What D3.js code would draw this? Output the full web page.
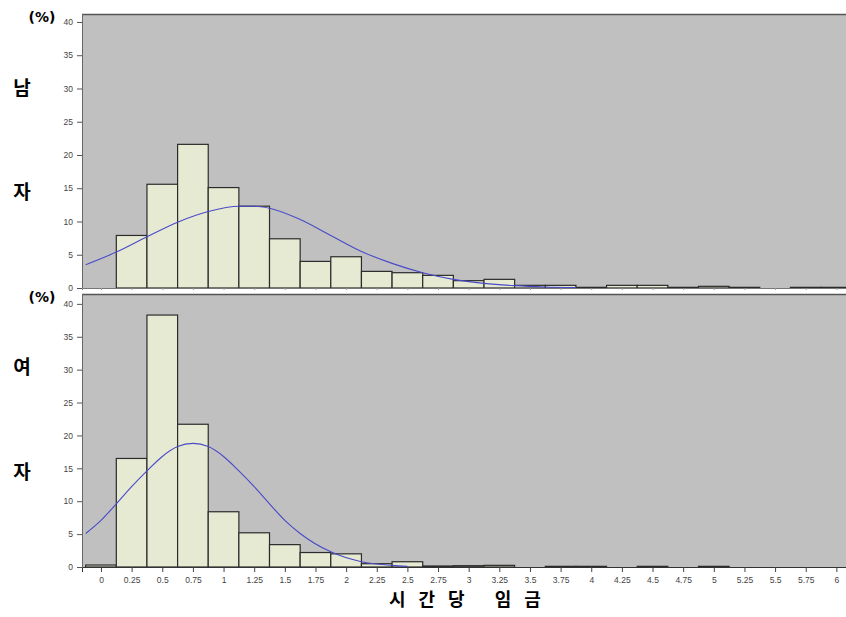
<!DOCTYPE html>
<html>
<head>
<meta charset="utf-8">
<script src="https://cdn.jsdelivr.net/npm/d3@7"></script>
<style>
  body { margin: 0; background: #fff; }
  svg { display: block; }
</style>
</head>
<body>
<svg id="chart" width="846" height="617"></svg>
<script>
// bin centres (hourly wage), one bar per bin of width 0.25
const bins = [0, 0.25, 0.5, 0.75, 1, 1.25, 1.5, 1.75, 2, 2.25, 2.5, 2.75, 3,
  3.25, 3.5, 3.75, 4, 4.25, 4.5, 4.75, 5, 5.25, 5.5, 5.75, 6];

// percent of workers in each bin
const maleValues = [0, 7.9, 15.6, 21.6, 15.1, 12.3, 7.4, 4.0, 4.7, 2.5, 2.3, 1.9, 1.1,
  1.3, 0.4, 0.4, 0.1, 0.4, 0.4, 0.1, 0.25, 0.1, 0, 0.1, 0.1];
const femaleValues = [0.3, 16.5, 38.3, 21.7, 8.4, 5.2, 3.4, 2.2, 2.0, 0.5, 0.8, 0.15, 0.2,
  0.25, 0, 0.1, 0.1, 0, 0.1, 0, 0.1, 0, 0, 0, 0];

// fitted curves, points
const maleCurveX = [-0.125, 0.125, 0.375, 0.625, 0.875, 1.125, 1.25, 1.375, 1.625, 1.875,
  2.125, 2.375, 2.625, 2.875, 3.125, 3.375, 3.625, 3.875];
const maleCurveY = [3.5, 5.4, 7.7, 9.9, 11.5, 12.3, 12.3, 12.0, 10.3, 7.9,
  5.5, 3.7, 2.3, 1.3, 0.7, 0.35, 0.15, 0.05];
const femaleCurveX = [-0.125, 0, 0.125, 0.25, 0.375, 0.5, 0.625, 0.75, 0.875, 1.0, 1.125,
  1.25, 1.375, 1.5, 1.625, 1.875, 2.125, 2.375, 2.5];
const femaleCurveY = [5.1, 7.1, 9.6, 12.2, 14.6, 16.8, 18.3, 18.8, 18.3, 16.8, 14.6,
  12.2, 9.6, 7.1, 5.1, 2.3, 0.8, 0.25, 0.1];

const yTicks = [0, 5, 10, 15, 20, 25, 30, 35, 40];
const xTicks = bins;

const svg = d3.select('#chart');
const left = 82, right = 867;

const xScale = d3.scaleLinear().domain([-0.155, 6.25]).range([left, right]);

const panels = [
  {values: maleValues, cx: maleCurveX, cy: maleCurveY, top: 14, bottom: 288, yMax: 41.2,
    label: ['남', '자'], labelY: [88, 192], pctY: 22, showLabels: false},
  {values: femaleValues, cx: femaleCurveX, cy: femaleCurveY, top: 294, bottom: 567, yMax: 41.5,
    label: ['여', '자'], labelY: [367, 472], pctY: 302, showLabels: true}
];

panels.forEach(p => {
  const yScale = d3.scaleLinear().domain([0, p.yMax]).range([p.bottom, p.top]);
  const g = svg.append('g');

  // grey plot area
  g.append('rect')
    .attr('x', left).attr('y', p.top)
    .attr('width', right - left).attr('height', p.bottom - p.top)
    .attr('fill', '#c0c0c0');
  g.append('line')
    .attr('x1', left).attr('x2', right).attr('y1', p.top + 0.5).attr('y2', p.top + 0.5)
    .attr('stroke', '#555').attr('stroke-width', 1.5);
  g.append('line')
    .attr('x1', left + 0.5).attr('x2', left + 0.5).attr('y1', p.top).attr('y2', p.bottom)
    .attr('stroke', '#666');

  // bars
  const barData = bins.map((b, i) => ({b, v: p.values[i]})).filter(d => d.v > 0);
  g.selectAll('.bar')
    .data(barData)
    .enter()
    .append('rect')
    .attr('class', 'bar')
    .attr('x', d => xScale(d.b - 0.125))
    .attr('y', d => yScale(d.v))
    .attr('width', d => xScale(d.b + 0.125) - xScale(d.b - 0.125))
    .attr('height', d => p.bottom - yScale(d.v))
    .attr('fill', '#e6ead3')
    .attr('stroke', '#2b2b2b')
    .attr('stroke-width', 1.2);

  // fitted curve
  const line = d3.line()
    .x(d => xScale(d[0]))
    .y(d => yScale(d[1]))
    .curve(d3.curveMonotoneX);
  g.append('path')
    .datum(p.cx.map((x, i) => [x, p.cy[i]]))
    .attr('fill', 'none')
    .attr('stroke', '#4a4ac8')
    .attr('stroke-width', 1.1)
    .attr('d', line);

  // y axis
  const yAxis = d3.axisLeft(yScale).tickValues(yTicks).tickSize(5).tickPadding(4);
  const ya = g.append('g').attr('transform', `translate(${left}, 0)`).call(yAxis);
  ya.select('.domain').remove();
  ya.selectAll('line').attr('stroke', '#555');
  ya.selectAll('text').attr('font-family', 'Liberation Sans, Arial, sans-serif')
    .attr('font-size', 8.5).attr('fill', '#444');

  // x axis
  const xAxis = d3.axisBottom(xScale).tickValues(xTicks).tickSize(p.showLabels ? 5 : 2)
    .tickPadding(5).tickFormat(d => p.showLabels ? String(d) : '');
  const xa = g.append('g').attr('transform', `translate(0, ${p.bottom})`).call(xAxis);
  xa.select('.domain').attr('stroke', p.showLabels ? '#333' : '#777');
  xa.selectAll('line').attr('stroke', p.showLabels ? '#444' : '#999');
  xa.selectAll('text').attr('font-family', 'Liberation Sans, Arial, sans-serif')
    .attr('font-size', 8.5).attr('fill', '#444');

  // side labels
  svg.append('text')
    .attr('x', 42).attr('y', p.pctY)
    .attr('text-anchor', 'middle')
    .attr('font-family', 'DejaVu Sans, sans-serif')
    .attr('font-weight', 'bold').attr('font-size', 14)
    .text('(%)');
  p.label.forEach((t, i) => {
    svg.append('text')
      .attr('x', 22).attr('y', p.labelY[i] + 7)
      .attr('text-anchor', 'middle')
      .attr('font-family', 'Noto Sans CJK KR, sans-serif')
      .attr('font-weight', 'bold').attr('font-size', 19)
      .text(t);
  });
});

// x title
svg.append('text')
  .attr('x', 389).attr('y', 606)
  .attr('font-family', 'Noto Sans CJK KR, sans-serif')
  .attr('font-weight', 'bold').attr('font-size', 18)
  .attr('letter-spacing', 13)
  .style('white-space', 'pre')
  .text('시간당 임금');
</script>
</body>
</html>
